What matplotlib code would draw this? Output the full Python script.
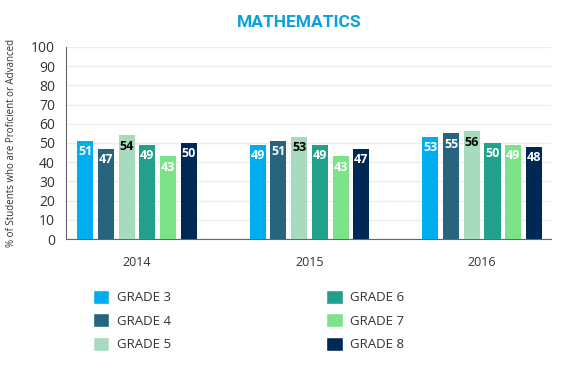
import numpy as np
import matplotlib.pyplot as plt
from matplotlib.patches import Patch

years = ["2014", "2015", "2016"]
grades = ["GRADE 3", "GRADE 4", "GRADE 5", "GRADE 6", "GRADE 7", "GRADE 8"]
grade3 = [51, 49, 53]
grade4 = [47, 51, 55]
grade5 = [54, 53, 56]
grade6 = [49, 49, 50]
grade7 = [43, 43, 49]
grade8 = [50, 47, 48]
series = [grade3, grade4, grade5, grade6, grade7, grade8]
colors = ["#00aeef", "#26657d", "#a8dbbd", "#21a08a", "#7de38a", "#002855"]
label_colors = ["white", "white", "black", "white", "white", "white"]

plt.rcParams["font.family"] = ["Open Sans", "DejaVu Sans"]

fig = plt.figure(figsize=(5.7, 3.69), dpi=100)
ax = fig.add_axes([0.116, 0.352, 0.851, 0.521])

x = np.arange(len(years))
step = 0.12
width = 0.093
for i, vals in enumerate(series):
    pos = x + (i - 2.5) * step
    bars = ax.bar(pos, vals, width, color=colors[i], zorder=3)
    for b, v in zip(bars, vals):
        ax.text(b.get_x() + b.get_width() / 2, v - 2.2, str(v), ha="center", va="top",
                color=label_colors[i], fontsize=9, fontweight="bold", zorder=4)

ax.set_ylim(0, 100)
ax.set_xlim(-0.41, 2.40)
ax.set_yticks(range(0, 101, 10))
ax.set_xticks(x)
ax.set_xticklabels(years)
ax.tick_params(axis="y", length=0, labelsize=10, colors="#333333", pad=8)
ax.tick_params(axis="x", length=0, labelsize=9, colors="#333333", pad=12)
ax.grid(axis="y", color="#ededed", linewidth=1, zorder=0)
for s in ["top", "right"]:
    ax.spines[s].set_visible(False)
ax.spines["left"].set_color("#666666")
ax.spines["bottom"].set_color("#666666")
ax.set_ylabel("% of Students who are Proficient or Advanced", fontsize=7, color="#333333", labelpad=10)

fig.text(0.525, 0.94, "MATHEMATICS", ha="center", va="center", color="#0aa0dc",
         fontsize=12.5, fontweight="bold", family=["Roboto"])

handles = [Patch(facecolor=c, edgecolor="white", label=g) for c, g in zip(colors, grades)]
fig.legend(handles=handles, ncol=2, loc="upper left", bbox_to_anchor=(0.163, 0.215),
           frameon=False, fontsize=9.5, handlelength=1.25, handleheight=1.25,
           handletextpad=0.55, labelspacing=0.7, columnspacing=11.8,
           labelcolor="#333333", borderaxespad=0, borderpad=0)

fig.savefig("out.png", dpi=100)
